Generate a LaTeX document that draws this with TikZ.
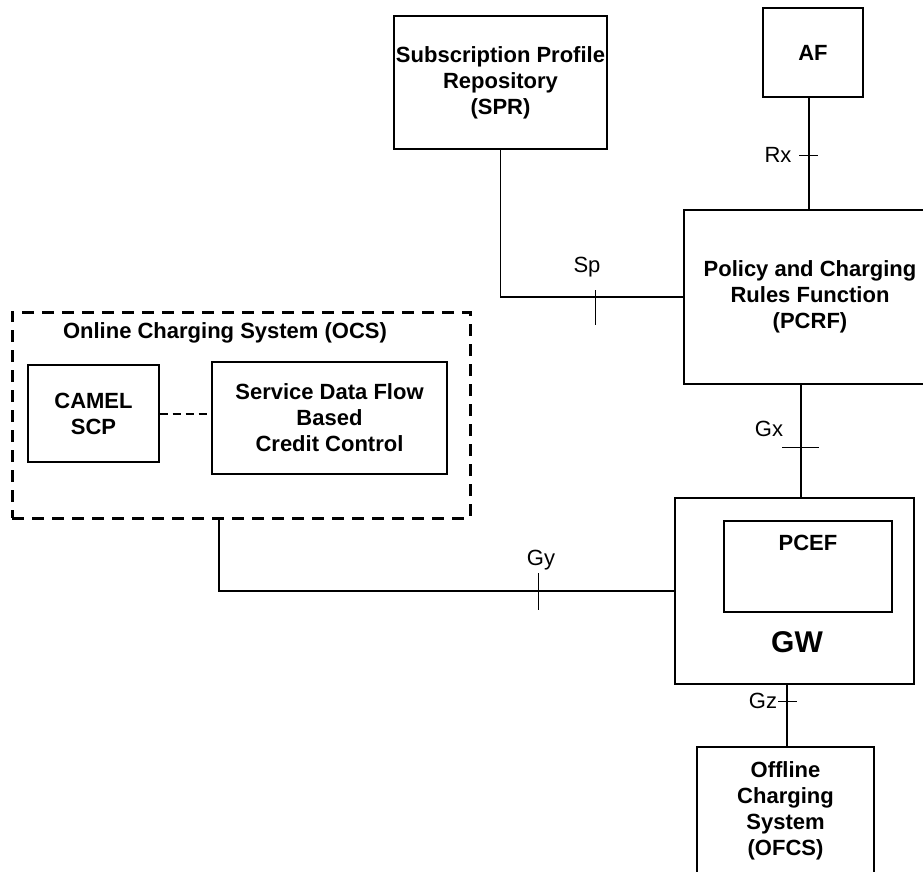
\documentclass[tikz,border=0pt]{standalone}
\usepackage{fontspec}
\setmainfont{Liberation Sans}

\begin{document}
\begin{tikzpicture}
  [x=1pt,y=-1pt,line width=1.2pt,
   every node/.style={inner sep=0pt,align=center,font=\fontsize{22}{26}\selectfont},
   box/.style={draw,font=\fontsize{22}{26}\selectfont\bfseries},
   boldtext/.style={font=\fontsize{22}{26}\selectfont\bfseries},
   ocsbox/.style={draw,line width=3pt,dash pattern=on 12pt off 8pt},
   tick/.style={line width=1pt}]
  \useasboundingbox (0,0) rectangle (923,872);

  \node[box,minimum width=213,minimum height=133] (spr) at (500.5,82.5) {Subscription Profile\\Repository\\(SPR)};
  \node[box,minimum width=100,minimum height=89] (af) at (813,52.5) {AF};
  \node[box,minimum width=252,minimum height=174] (pcrf) at (810,297) {Policy and Charging\\Rules Function\\(PCRF)};

  \node[ocsbox,minimum width=458,minimum height=206] (ocs) at (241,415) {};
  \node[boldtext] (ocstitle) at (225,333) {Online Charging System (OCS)};
  \node[box,minimum width=131,minimum height=97] (camel) at (93.5,413.5) {CAMEL\\SCP};
  \node[box,minimum width=235,minimum height=112] (sdf) at (329.5,418) {Service Data Flow\\Based\\Credit Control};

  \node[box,minimum width=239,minimum height=186] (gw) at (794.5,591) {};
  \node[box,minimum width=168,minimum height=91] (pcef) at (808,566.5) {};
  \node[boldtext] (pceftxt) at (808,543) {PCEF};
  \node[font=\fontsize{30}{34}\selectfont\bfseries] (gwtxt) at (797,642) {GW};

  \node[box,minimum width=177,minimum height=127] (ofcs) at (785.5,810.5) {Offline\\Charging\\System\\(OFCS)};

  % reference points
  \coordinate (rxm) at (809,155);
  \coordinate (spm) at (595,298);
  \coordinate (gxm) at (801,447);
  \coordinate (gym) at (538,591);
  \coordinate (gzm) at (787,701);

  \node (rx) at (778,155) {Rx};
  \node (sp) at (587,267) {Sp};
  \node (gx) at (769,429) {Gx};
  \node (gy) at (541,560) {Gy};
  \node (gz) at (763,701) {Gz};

  \draw (af.south -| rxm) -- (pcrf.north -| rxm);
  \draw (spr.south) |- (pcrf.west);
  \draw (pcrf.south -| gxm) -- (gw.north -| gxm);
  \draw ([xshift=-22pt]ocs.south) |- (gw.west);
  \draw (gw.south -| gzm) -- (ofcs.north -| gzm);

  \draw[line width=2pt,dash pattern=on 8pt off 5pt] (camel.east) -- (camel.east -| sdf.west);

  \draw[tick] ([xshift=-10pt]rxm) -- ([xshift=9pt]rxm);
  \draw[tick] ([yshift=8pt]spm) -- ([yshift=-27pt]spm);
  \draw[tick] ([xshift=-19pt]gxm) -- ([xshift=18pt]gxm);
  \draw[tick] ([yshift=18pt]gym) -- ([yshift=-19pt]gym);
  \draw[tick] ([xshift=-9pt]gzm) -- ([xshift=10pt]gzm);
\end{tikzpicture}
\end{document}
